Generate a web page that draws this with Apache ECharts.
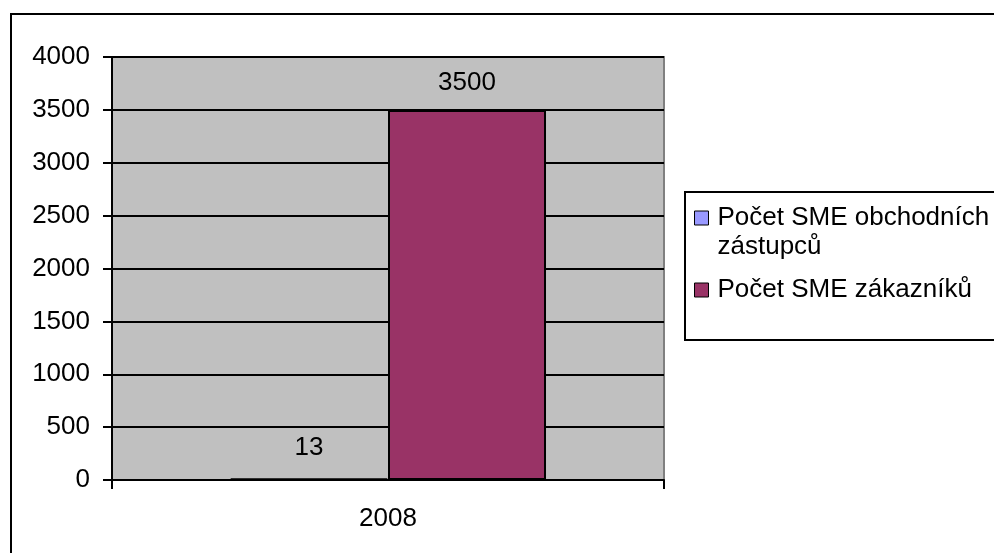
<!DOCTYPE html>
<html>
<head>
<meta charset="utf-8">
<script src="https://cdn.jsdelivr.net/npm/echarts@6/dist/echarts.min.js"></script>
<style>
html,body{margin:0;padding:0;background:#fff;}
#c{width:994px;height:553px;}
</style>
</head>
<body>
<div id="c"></div>
<script>
const categories = ['2008'];
const seriesNames = ['Počet SME obchodních zástupců', 'Počet SME zákazníků'];
const agentValues = [13];
const customerValues = [3500];
const yTicks = { min: 0, max: 4000, interval: 500 };

const FONT = '"Liberation Sans", Arial, sans-serif';
const FS = 26;
const chart = echarts.init(document.getElementById('c'), null, { renderer: 'canvas' });

function legendLabel(name) {
  if (name === seriesNames[0]) {
    const i = name.lastIndexOf(' ');
    // leading empty line keeps the first text line level with the marker
    return '\n' + name.slice(0, i) + '\n' + name.slice(i + 1);
  }
  return name;
}

chart.setOption({
  animation: false,
  backgroundColor: '#ffffff',
  textStyle: { fontFamily: FONT },
  graphic: [
    { type: 'rect', z: -10, shape: { x: 11, y: 14, width: 1000, height: 600 },
      style: { fill: 'none', stroke: '#000', lineWidth: 2 } },
    { type: 'rect', z: -5, shape: { x: 685, y: 192, width: 330, height: 148 },
      style: { fill: '#fff', stroke: '#000', lineWidth: 2 } }
  ],
  grid: {
    left: 112, top: 57, right: 330, bottom: 73,
    show: true, backgroundColor: '#C0C0C0', borderColor: '#808080', borderWidth: 2
  },
  legend: {
    orient: 'vertical', left: 694, top: 174.5, padding: 0, itemGap: 14,
    itemWidth: 14, itemHeight: 14, icon: 'rect',
    itemStyle: { borderColor: '#000', borderWidth: 1 },
    formatter: legendLabel,
    textStyle: { fontSize: FS, color: '#000', fontFamily: FONT, lineHeight: 29, padding: [0, 0, 0, 4] },
    data: seriesNames
  },
  xAxis: {
    type: 'category', data: categories,
    axisLine: { show: true, lineStyle: { color: '#000', width: 2 } },
    axisTick: { show: true, length: 9, lineStyle: { color: '#000', width: 2 } },
    axisLabel: { fontSize: FS, color: '#000', margin: 26, fontFamily: FONT },
    splitLine: { show: false }
  },
  yAxis: {
    type: 'value', min: yTicks.min, max: yTicks.max, interval: yTicks.interval,
    axisLine: { show: true, lineStyle: { color: '#000', width: 2 } },
    axisTick: { show: true, length: 9, lineStyle: { color: '#000', width: 2 } },
    axisLabel: { fontSize: FS, color: '#000', margin: 22, fontFamily: FONT, formatter: v => String(v) },
    splitLine: { show: true, lineStyle: { color: '#000', width: 2 } }
  },
  series: [
    {
      name: seriesNames[0], type: 'bar', data: agentValues,
      barGap: '0%', barCategoryGap: '42.75%',
      itemStyle: { color: '#9999FF', borderColor: '#000', borderWidth: 2 },
      label: { show: true, position: 'top', distance: 17, fontSize: FS, color: '#000', fontFamily: FONT }
    },
    {
      name: seriesNames[1], type: 'bar', data: customerValues,
      barGap: '0%', barCategoryGap: '42.75%',
      itemStyle: { color: '#993366', borderColor: '#000', borderWidth: 2 },
      label: { show: true, position: 'top', distance: 14, fontSize: FS, color: '#000', fontFamily: FONT }
    }
  ]
});
</script>
</body>
</html>
